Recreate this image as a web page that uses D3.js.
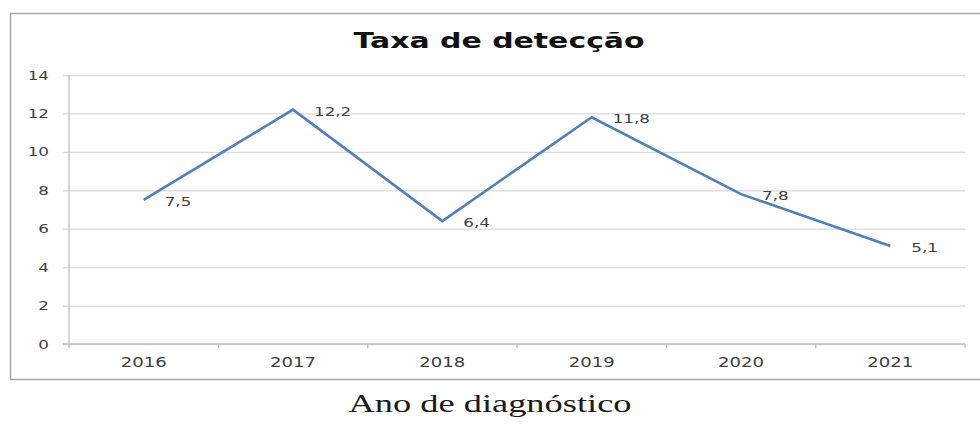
<!DOCTYPE html>
<html>
<head>
<meta charset="utf-8">
<script src="https://cdnjs.cloudflare.com/ajax/libs/d3/7.8.5/d3.min.js"></script>
<style>
  body { margin: 0; background: #fff; }
  svg { display: block; }
</style>
</head>
<body>
<div id="app"></div>
<script>
let years = ['2016', '2017', '2018', '2019', '2020', '2021'];
let taxa = [7.5, 12.2, 6.4, 11.8, 7.8, 5.1];
let yTicks = [0, 2, 4, 6, 8, 10, 12, 14];
let chartTitle = 'Taxa de detecção';
let xTitle = 'Ano de diagnóstico';

let margin = {
  top: 75,
  right: 15,
  bottom: 84,
  left: 69
}

let width = 980 - margin.left - margin.right;
let height = 428 - margin.top - margin.bottom;
// the picture looks stretched sideways, so text is widened too
let stretch = 1.34;

let xScale = d3.scaleBand()
               .domain(years)
               .range([0, width])

let yScale = d3.scaleLinear()
               .domain([0, 14])
               .range([height, 0])

let svg = d3.select('#app').append('svg')
    .attr('width', 980)
    .attr('height', 428)
    .style('background', '#fff')

// outer chart box (right edge falls outside the picture)
svg.append('rect')
   .attr('x', 10.5)
   .attr('y', 13.5)
   .attr('width', 1000)
   .attr('height', 366)
   .style('fill', 'none')
   .style('stroke', '#a6a6a6')
   .style('stroke-width', 1.5)

let chart = svg.append('g')
    .attr('transform', `translate(${margin.left}, ${margin.top})`)

function wideText(sel, x, y) {
  return sel.attr('transform', `translate(${x}, ${y}) scale(${stretch}, 1)`)
}

// gridlines
let vAxis = d3.axisLeft()
              .scale(yScale)
              .tickValues(yTicks)
              .tickSize(-width)
              .tickSizeOuter(0)
              .tickPadding(0)
              .tickFormat('')

let vGuide = chart.append('g').call(vAxis);
vGuide.select('.domain').remove();
vGuide.selectAll('line')
      .attr('x1', -6)
      .style('stroke', '#d9d9d9')
      .style('stroke-width', 1.3)

// y tick labels
chart.append('g').selectAll('text')
     .data(yTicks)
     .enter()
     .append('text')
       .each(function(d) { wideText(d3.select(this), -20, yScale(d) + 4.5) })
       .attr('text-anchor', 'end')
       .style('font-family', 'DejaVu Sans')
       .style('font-size', '12.5px')
       .style('fill', '#404040')
       .text(function(d) { return d; })

// axis lines
chart.append('line')
     .attr('x1', 0).attr('x2', 0)
     .attr('y1', 0).attr('y2', height)
     .style('stroke', '#bfbfbf')
     .style('stroke-width', 1.3)

let hAxis = d3.axisBottom()
              .scale(xScale)
              .tickSize(0)
              .tickFormat('')

let hGuide = chart.append('g')
    .attr('transform', `translate(0, ${height})`)
    .call(hAxis);
hGuide.select('.domain')
      .attr('d', `M-6,0H${width}`)
      .style('stroke', '#bfbfbf')
      .style('stroke-width', 1.3)

// category boundary ticks
chart.append('g').selectAll('line')
     .data(years.concat(['end']))
     .enter()
     .append('line')
       .attr('x1', function(d) { return d === 'end' ? width : xScale(d); })
       .attr('x2', function(d) { return d === 'end' ? width : xScale(d); })
       .attr('y1', height)
       .attr('y2', height + 4)
       .style('stroke', '#bfbfbf')
       .style('stroke-width', 1.3)

// x tick labels
chart.append('g').selectAll('text')
     .data(years)
     .enter()
     .append('text')
       .each(function(d) {
         wideText(d3.select(this), xScale(d) + xScale.bandwidth() / 2, height + 23)
       })
       .attr('text-anchor', 'middle')
       .style('font-family', 'DejaVu Sans')
       .style('font-size', '13.5px')
       .style('fill', '#404040')
       .text(function(d) { return d; })

// series line
let line = d3.line()
             .x(function(d, i) { return xScale(years[i]) + xScale.bandwidth() / 2; })
             .y(function(d) { return yScale(d); })

chart.append('path')
     .datum(taxa)
     .attr('d', line)
     .style('fill', 'none')
     .style('stroke', '#4f7fbc')
     .style('stroke-width', 2.6)
     .style('stroke-linejoin', 'miter')

// data labels to the right of each point
chart.append('g').selectAll('text')
     .data(taxa)
     .enter()
     .append('text')
       .each(function(d, i) {
         wideText(d3.select(this), xScale(years[i]) + xScale.bandwidth() / 2 + 21, yScale(d) + 6)
       })
       .style('font-family', 'DejaVu Sans')
       .style('font-size', '12.5px')
       .style('fill', '#404040')
       .text(function(d) { return String(d).replace('.', ','); })

// title
svg.append('text')
   .attr('transform', `translate(499, 48) scale(1.36, 1)`)
   .attr('text-anchor', 'middle')
   .style('font-family', 'DejaVu Sans')
   .style('font-weight', 'bold')
   .style('font-size', '22px')
   .style('fill', '#111')
   .text(chartTitle)

// axis title below the box
svg.append('text')
   .attr('transform', `translate(490, 412) scale(1.4, 1)`)
   .attr('text-anchor', 'middle')
   .style('font-family', 'Liberation Serif')
   .style('font-size', '26px')
   .style('fill', '#1a1a1a')
   .text(xTitle)
</script>
</body>
</html>
